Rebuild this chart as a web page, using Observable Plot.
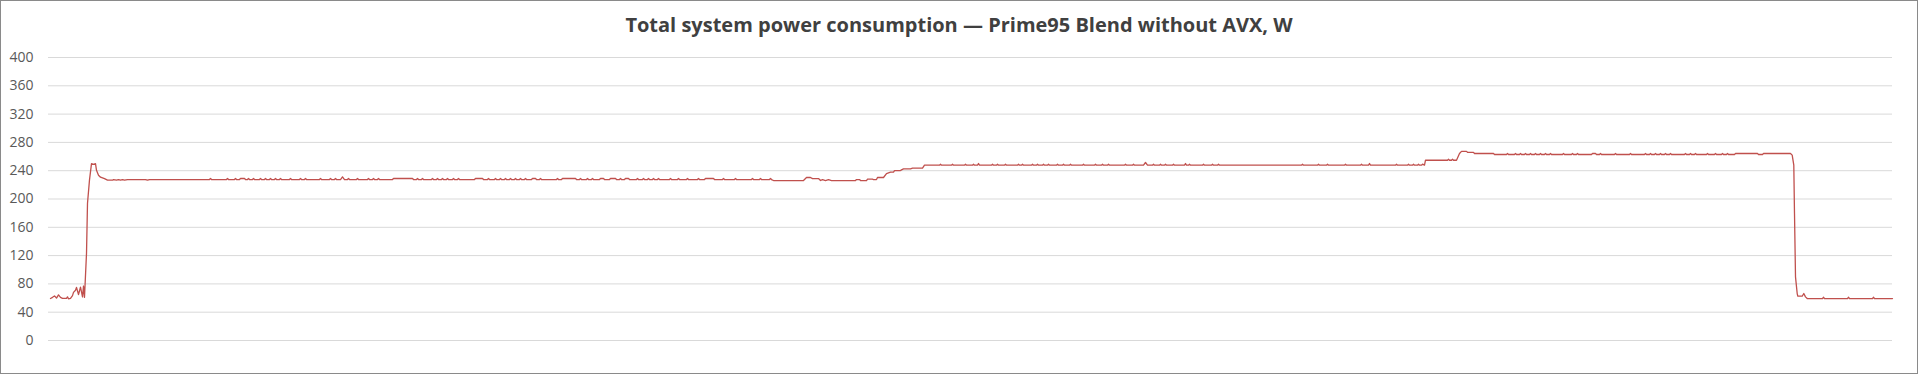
<!DOCTYPE html>
<html>
<head>
<meta charset="utf-8">
<script src="https://cdn.jsdelivr.net/npm/d3@7"></script>
<script src="https://cdn.jsdelivr.net/npm/@observablehq/plot@0.6"></script>
<style>
  html, body { margin: 0; padding: 0; background: #fff; overflow: hidden; }
  #frame { width: 1918px; height: 374px; box-sizing: border-box; border: 1px solid #8a8a8a; background: #fff; overflow: hidden; }
  #title { height: 46px; line-height: 48px; text-align: center; font-family: "Open Sans", sans-serif; font-weight: 700; font-size: 20px; color: #404040; white-space: nowrap; }
  #title span { display: inline-block; }
  #chart svg { display: block; }
</style>
</head>
<body>
<div id="frame">
  <div id="title"><span>Total system power consumption — Prime95 Blend without AVX, W</span></div>
  <div id="chart"></div>
</div>
<script>
const titleText = "Total system power consumption — Prime95 Blend without AVX, W";
const yTicks = [0, 40, 80, 120, 160, 200, 240, 280, 320, 360, 400];

// [sample, watts]
const idleStart = [[0,59.4],[2,61],[4,63],[6,60],[8,64.5],[10,61],[12,59.6],[16,59.5],[17,61.7],[18,59],[20,59.6],[22,63.5],[23,68],[25,71],[26,75],[28,65],[30,75.5],[32,61.7],[33,77],[34,61]];
const rampUp = [[36,123],[37,194],[39,227],[41,250],[43,249],[45,250],[46,240.5],[48,233.6],[50,230.8],[52,229.8],[54,228.7],[57,226.6]];
const firstLoad = [[58,226.6],[62,226.6],[63,227.5],[66,226.6],[68,227.5],[70,226.6],[72,227.5],[74,226.6],[77,227.5],[95,227.5],[97,226.6],[99,227.5],
[159,227.5],[160,229],[161,227.5],[176,227.5],[177,229],[178,227.5],[184,227.5],[185,229],[186,227.5],[189,227.5],[190,229],[194,229],[195,227.5],
[197,227.5],[198,229],[199,227.5],[202,227.5],[203,229],[204,227.5],[209,227.5],[210,229],[211,227.5],[214,227.5],[215,229],[216,227.5],
[219,227.5],[220,229],[221,227.5],[224,227.5],[225,229],[226,227.5],[229,227.5],[230,229],[231,227.5],[239,227.5],[240,229],[241,227.5],
[249,227.5],[250,229],[251,227.5],[254,227.5],[255,229],[256,227.5],[269,227.5],[270,229],[271,227.5],[279,227.5],[280,229],[281,227.5],
[284,227.5],[285,229],[286,227.5],[290,227.5],[292,231.3],[294,227.5],[297,227.5],[298,229],[299,227.5],[306,227.5],[307,229],[308,227.5],
[317,227.5],[318,229],[319,227.5],[322,227.5],[323,229],[324,227.5],[327,227.5],[328,229],[329,227.5],[342,227.5],[343,229],[362,229],[363,227.5],
[366,227.5],[367,229],[368,227.5],[371,227.5],[372,229],[373,227.5],[381,227.5],[382,229],[383,227.5],[386,227.5],[387,229],[388,227.5],
[391,227.5],[392,229],[393,227.5],[396,227.5],[397,229],[398,227.5],[402,227.5],[403,229],[404,227.5],[407,227.5],[408,229],[409,227.5],
[424,227.5],[425,229],[432,229],[433,227.5],[437,227.5],[438,229],[439,227.5],[444,227.5],[445,229],[446,227.5],[449,227.5],[450,229],[451,227.5],
[454,227.5],[455,229],[456,227.5],[459,227.5],[460,229],[461,227.5],[464,227.5],[465,229],[466,227.5],[469,227.5],[470,229],[471,227.5],
[474,227.5],[475,229],[476,227.5],[481,227.5],[482,229],[485,229],[486,227.5],[489,227.5],[490,229],[491,227.5],[506,227.5],[507,229],[508,227.5],
[511,227.5],[512,229],[525,229],[526,227.5],[529,227.5],[530,229],[531,227.5],[536,227.5],[537,229],[538,227.5],[541,227.5],[542,229],[543,227.5],
[549,227.5],[550,229],[553,229],[554,227.5],[559,227.5],[560,229],[565,229],[566,227.5],[569,227.5],[570,229],[571,227.5],[574,227.5],[575,229],[578,229],[579,227.5],
[586,227.5],[587,229],[588,227.5],[592,227.5],[593,229],[594,227.5],[597,227.5],[598,229],[599,227.5],[602,227.5],[603,229],[604,227.5],
[607,227.5],[608,229],[609,227.5],[619,227.5],[620,229],[621,227.5],[627,227.5],[628,229],[629,227.5],[636,227.5],[637,229],[638,227.5],
[647,227.5],[648,229],[649,227.5],[654,227.5],[655,229],[663,229],[664,227.5],[672,227.5],[673,229],[674,227.5],[684,227.5],[685,229],[686,227.5],
[701,227.5],[702,229],[703,227.5],[709,227.5],[710,229],[711,227.5],[719,227.5],[720,229],[721,227.5]];
const transition = [[723,226.1],[753,226.1],[756,230.4],[760,230.4],[762,228.9],[768,228.9],[770,226.1],[772,227.5],[775,226.1],[778,227.5],[781,226.1],[805,226.1],[806,227.5],[809,227.5],[810,226.1],[816,226.1],[817,228],[822,228],[823,227.5],[826,227.5],[827,230.4],[833,230.4],[836,236],[840,237.9],[843,237.9],[844,240.2],[850,240.2],[851,241.2],[853,242.6],[860,242.6],[862,243.5],[872,243.5],[874,247.8]];
const secondLoad = [[889,247.8],[890,249.2],[891,247.8],[901,247.8],[902,249.2],[903,247.8],[914,247.8],[915,249.2],[916,247.8],[922,247.8],[923,249.2],[924,247.8],
[927,247.8],[928,250.1],[929,247.8],[941,247.8],[942,249.2],[943,247.8],[946,247.8],[947,249.2],[948,247.8],[954,247.8],[955,249.2],[956,247.8],
[967,247.8],[968,249.2],[969,247.8],[971,247.8],[972,249.2],[973,247.8],[981,247.8],[982,249.2],[983,247.8],[986,247.8],[987,249.2],[988,247.8],
[992,247.8],[993,249.2],[994,247.8],[997,247.8],[998,249.2],[999,247.8],[1006,247.8],[1007,249.2],[1008,247.8],[1012,247.8],[1013,249.2],[1014,247.8],
[1019,247.8],[1020,249.2],[1021,247.8],[1032,247.8],[1033,249.2],[1034,247.8],[1044,247.8],[1045,249.2],[1046,247.8],[1051,247.8],[1052,249.2],[1053,247.8],
[1057,247.8],[1058,249.2],[1059,247.8],[1074,247.8],[1075,249.2],[1076,247.8],[1082,247.8],[1083,249.2],[1084,247.8],[1093,247.8],[1095,251.6],[1097,247.8],
[1102,247.8],[1103,249.2],[1104,247.8],[1109,247.8],[1110,249.2],[1111,247.8],[1114,247.8],[1115,249.2],[1116,247.8],[1122,247.8],[1123,249.2],[1124,247.8],
[1134,247.8],[1135,250.1],[1136,247.8],[1138,247.8],[1139,249.2],[1140,247.8],[1152,247.8],[1153,249.2],[1154,247.8],[1161,247.8],[1162,249.2],[1163,247.8],
[1167,247.8],[1168,249.2],[1169,247.8],[1251,247.8],[1252,249.2],[1253,247.8],[1267,247.8],[1268,249.2],[1269,247.8],[1276,247.8],[1277,249.2],[1278,247.8],
[1294,247.8],[1295,249.2],[1296,247.8],[1310,247.8],[1311,249.2],[1312,247.8],[1318,247.8],[1319,250.1],[1320,247.8],[1345,247.8],[1346,249.2],[1347,247.8],
[1357,247.8],[1358,249.2],[1359,247.8],[1362,247.8],[1363,249.2],[1364,247.8],[1367,247.8],[1368,249.2],[1369,247.8],[1371,247.8],[1372,249.2],[1374,247.8]];
const stepUp = [[1375,254.8],[1397,254.8],[1398,256.2],[1399,254.8],[1401,254.8],[1402,256.2],[1403,254.8],[1406,254.8],[1409,264.3],[1411,267.3],[1416,267.3],[1417,266],[1423,266],[1424,264.3],[1443,264.3],[1444,262.9]];
const thirdLoad = [[1456,262.9],[1457,264.3],[1458,262.9],[1464,262.9],[1465,264.3],[1466,262.9],[1469,262.9],[1470,264.3],[1471,262.9],[1474,262.9],[1475,264.3],[1476,262.9],
[1479,262.9],[1480,264.3],[1481,262.9],[1484,262.9],[1485,264.3],[1486,262.9],[1489,262.9],[1490,264.3],[1491,262.9],[1494,262.9],[1495,264.3],[1496,262.9],
[1499,262.9],[1500,264.3],[1501,262.9],[1512,262.9],[1513,264.3],[1514,262.9],[1521,262.9],[1522,264.3],[1523,262.9],[1526,262.9],[1527,264.3],[1528,262.9],
[1541,262.9],[1542,264.3],[1545,264.3],[1546,262.9],[1549,262.9],[1550,264.3],[1551,262.9],[1564,262.9],[1565,264.3],[1566,262.9],[1579,262.9],[1580,264.3],[1581,262.9],
[1594,262.9],[1595,264.3],[1596,262.9],[1599,262.9],[1600,264.3],[1601,262.9],[1604,262.9],[1605,264.3],[1606,262.9],[1609,262.9],[1610,264.3],[1611,262.9],
[1614,262.9],[1615,264.3],[1616,262.9],[1619,262.9],[1620,264.3],[1621,262.9],[1634,262.9],[1635,264.3],[1636,262.9],[1639,262.9],[1640,264.3],[1641,262.9],
[1644,262.9],[1645,264.3],[1646,262.9],[1656,262.9],[1657,264.3],[1658,262.9],[1664,262.9],[1665,264.3],[1666,262.9],[1671,262.9],[1672,264.3],[1673,262.9],
[1676,262.9],[1677,264.3],[1678,262.9],[1684,262.9],[1685,264.3],[1707,264.3],[1708,262.9],[1712,262.9],[1713,264.3],[1740,264.3]];
const dropDown = [[1741.7,262],[1743.3,247.8],[1744,179.5],[1745,90],[1746.7,66.4],[1747.3,62.6],[1751.7,62.6],[1753.3,66.4],[1755,61.7],[1756.7,59.3]];
const idleEnd = [[1772,59.3],[1773,61.2],[1774,59.3],[1797,59.3],[1798,61.2],[1799,59.3],[1822,59.3],[1823,61.2],[1824,59.3],[1842,59.3]];

const series = [].concat(idleStart, rampUp, firstLoad, transition, secondLoad, stepUp, thirdLoad, dropDown, idleEnd);

document.querySelector("#title span").textContent = titleText;

const chart = Plot.plot({
  width: 1916,
  height: 326,
  marginTop: 10,
  marginBottom: 33,
  marginLeft: 47,
  marginRight: 25,
  style: { fontFamily: "'Open Sans', sans-serif", fontSize: "14px", color: "#595959", background: "#fff", overflow: "visible" },
  x: { domain: [0, 1842], insetLeft: 2, axis: null },
  y: { domain: [0, 400], ticks: yTicks, label: null },
  marks: [
    Plot.gridY(yTicks, { stroke: "#d9d9d9", strokeOpacity: 1, strokeWidth: 1 }),
    Plot.axisY(yTicks, { tickSize: 0, tickPadding: 15, fontSize: 14, label: null, fill: "#595959" }),
    Plot.line(series, { x: d => d[0], y: d => d[1], stroke: "#c0504d", strokeWidth: 1.3 })
  ]
});
document.getElementById("chart").appendChild(chart);
</script>
</body>
</html>
